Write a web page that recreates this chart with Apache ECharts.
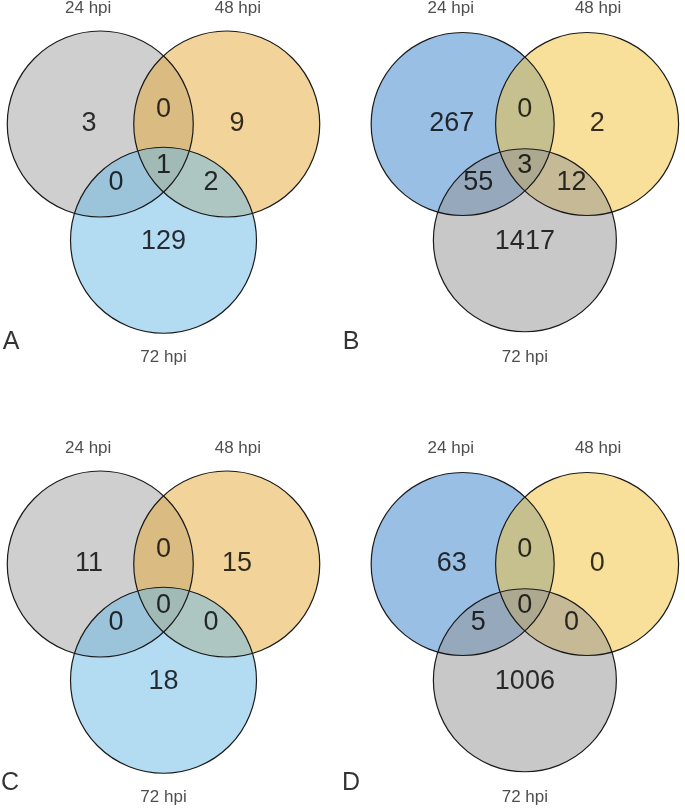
<!DOCTYPE html>
<html>
<head>
<meta charset="utf-8">
<script src="https://cdn.jsdelivr.net/npm/echarts@6/dist/echarts.min.js"></script>
<style>
html,body{margin:0;padding:0;background:#fff;}
#chart{width:685px;height:809px;}
</style>
</head>
<body>
<div id="chart"></div>
<script>
// ---- data ----
const setNames = ['24 hpi', '48 hpi', '72 hpi'];
const panelLetters = ['A', 'B', 'C', 'D'];
// region order: only24, only48, 24&48, 24&72, 48&72, all three, only72
const regionKeys = ['only24', 'only48', 'both24_48', 'both24_72', 'both48_72', 'all', 'only72'];
const countsA = [3, 9, 0, 0, 2, 1, 129];
const countsB = [267, 2, 0, 55, 12, 3, 1417];
const countsC = [11, 15, 0, 0, 0, 0, 18];
const countsD = [63, 0, 0, 5, 0, 0, 1006];
const panelCounts = [countsA, countsB, countsC, countsD];

// ---- layout (unit = circle radius) ----
const R_PX = 93;
const panelCenters = [[163.5, 124], [527.5, 124], [163.5, 564], [527.5, 564]];
const circleCenters = [[-0.68, 0], [0.68, 0], [0, -1.25]];
const regionPos = [[-0.80, 0], [0.79, 0], [0, 0.16], [-0.51, -0.63], [0.51, -0.63], [0, -0.45], [0, -1.26]];
const setLabelPos = [[-0.81, 1.24], [0.80, 1.24], [0, -2.51]];
const letterPos = [[-1.64, -2.34], [-1.90, -2.34], [-1.65, -2.36], [-1.90, -2.36]];
const X_RANGE = [-1.75, 1.75];
const Y_RANGE = [-2.6, 1.3];

// ---- styles ----
const paletteGOB = ['rgba(159,159,159,0.5)', 'rgba(229,167,53,0.5)', 'rgba(103,185,231,0.5)'];
const paletteBYG = ['rgba(53,127,201,0.5)', 'rgba(241,193,55,0.5)', 'rgba(145,145,145,0.5)'];
const panelPalettes = [paletteGOB, paletteBYG, paletteGOB, paletteBYG];
const FONT = '"Liberation Sans", Arial, sans-serif';

const chart = echarts.init(document.getElementById('chart'), null, {renderer: 'canvas'});

function textLabel(size, color) {
  return {show: true, position: 'inside', formatter: '{b}', color: color,
          fontSize: size, fontFamily: FONT, textBorderWidth: 0, textShadowBlur: 0};
}

const grids = [], xAxes = [], yAxes = [], series = [];
panelCenters.forEach((pc, i) => {
  const w = (X_RANGE[1] - X_RANGE[0]) * R_PX;
  const h = (Y_RANGE[1] - Y_RANGE[0]) * R_PX;
  grids.push({left: pc[0] + X_RANGE[0] * R_PX, top: pc[1] - Y_RANGE[1] * R_PX, width: w, height: h});
  xAxes.push({type: 'value', gridIndex: i, min: X_RANGE[0], max: X_RANGE[1], show: false});
  yAxes.push({type: 'value', gridIndex: i, min: Y_RANGE[0], max: Y_RANGE[1], show: false});
  const pal = panelPalettes[i];
  // fills
  series.push({
    type: 'custom', xAxisIndex: i, yAxisIndex: i, silent: true, z: 1,
    data: circleCenters.map(c => c.slice()),
    renderItem: (params, api) => {
      const c = api.coord([api.value(0), api.value(1)]);
      const r = api.size([1, 0])[0];
      return {type: 'circle', shape: {cx: c[0], cy: c[1], r: r},
              style: {fill: pal[params.dataIndex], stroke: null}};
    }
  });
  // outlines
  series.push({
    type: 'custom', xAxisIndex: i, yAxisIndex: i, silent: true, z: 2,
    data: circleCenters.map(c => c.slice()),
    renderItem: (params, api) => {
      const c = api.coord([api.value(0), api.value(1)]);
      const r = api.size([1, 0])[0];
      return {type: 'circle', shape: {cx: c[0], cy: c[1], r: r},
              style: {fill: null, stroke: '#1a1a1a', lineWidth: 1.2}};
    }
  });
  // region counts
  series.push({
    type: 'scatter', xAxisIndex: i, yAxisIndex: i, silent: true, z: 3, clip: false,
    symbolSize: 0,
    data: panelCounts[i].map((v, k) => ({name: String(v), value: regionPos[k]})),
    label: textLabel(27, '#000'),
    emphasis: {disabled: true}
  });
  // set names
  series.push({
    type: 'scatter', xAxisIndex: i, yAxisIndex: i, silent: true, z: 3, clip: false,
    symbolSize: 0,
    data: setNames.map((s, k) => ({name: s, value: setLabelPos[k]})),
    label: textLabel(17, '#222'),
    emphasis: {disabled: true}
  });
  // panel letter
  series.push({
    type: 'scatter', xAxisIndex: i, yAxisIndex: i, silent: true, z: 3, clip: false,
    symbolSize: 0,
    data: [{name: panelLetters[i], value: letterPos[i]}],
    label: textLabel(25, '#000'),
    emphasis: {disabled: true}
  });
});

chart.setOption({
  animation: false,
  backgroundColor: '#fff',
  grid: grids,
  xAxis: xAxes,
  yAxis: yAxes,
  series: series
});
</script>
</body>
</html>
